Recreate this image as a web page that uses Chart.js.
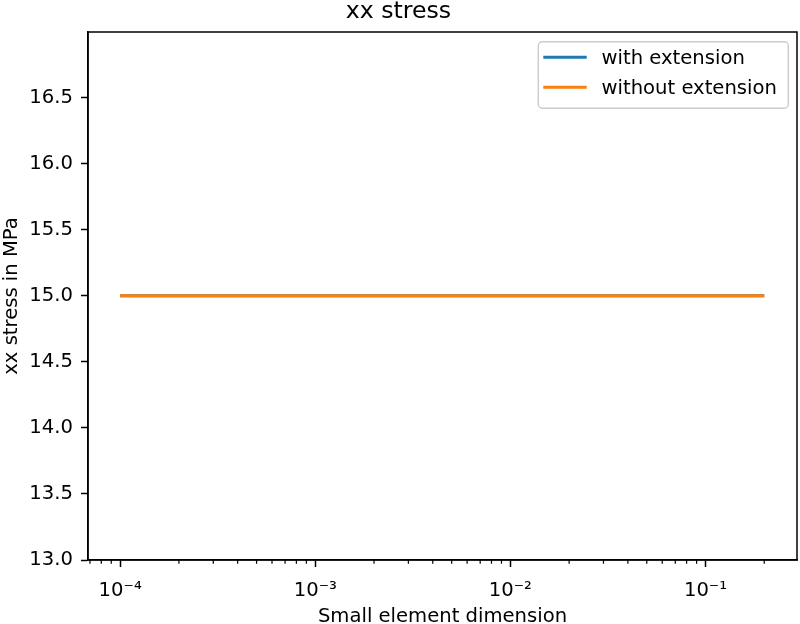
<!DOCTYPE html>
<html>
<head>
<meta charset="utf-8">
<script src="https://cdn.jsdelivr.net/npm/chart.js@4/dist/chart.umd.min.js"></script>
<style>
  html, body { margin: 0; padding: 0; background: #ffffff; }
  #wrap { width: 800px; height: 624px; }
</style>
</head>
<body>
<div id="wrap"><canvas id="c" width="800" height="624"></canvas></div>
<script>
// ---- data ----
const elementSizes = [0.0001, 0.0002, 0.0005, 0.001, 0.002, 0.005, 0.01, 0.02, 0.05, 0.1, 0.2];
const stressWithExtension = [15.0, 15.0, 15.0, 15.0, 15.0, 15.0, 15.0, 15.0, 15.0, 15.0, 15.0];
const stressWithoutExtension = [15.0, 15.0, 15.0, 15.0, 15.0, 15.0, 15.0, 15.0, 15.0, 15.0, 15.0];
const seriesNames = ['with extension', 'without extension'];
const xMajorTicks = [0.0001, 0.001, 0.01, 0.1];
const xMajorLabels = ['10\u207B\u2074', '10\u207B\u00B3', '10\u207B\u00B2', '10\u207B\u00B9'];
const xMinorTicks = [0.00007, 0.00008, 0.00009,
  0.0002, 0.0003, 0.0004, 0.0005, 0.0006, 0.0007, 0.0008, 0.0009,
  0.002, 0.003, 0.004, 0.005, 0.006, 0.007, 0.008, 0.009,
  0.02, 0.03, 0.04, 0.05, 0.06, 0.07, 0.08, 0.09,
  0.2];
const yTicks = [13.0, 13.5, 14.0, 14.5, 15.0, 15.5, 16.0, 16.5];
const xRange = [6.84e-5, 0.2944];
const yRange = [13.0, 16.996];
const titleText = 'xx stress';
const xTitle = 'Small element dimension';
const yTitle = 'xx stress in MPa';

const colors = ['#1f77b4', '#ff7f0e'];
const FONT = 'DejaVu Sans';
const FS = 19.6;
Chart.defaults.font.family = FONT;
Chart.defaults.font.size = FS;
Chart.defaults.color = '#000000';

const toPoints = (ys) => elementSizes.map((x, i) => ({ x: x, y: ys[i] }));

const framePlugin = {
  id: 'frame',
  afterDraw(chart) {
    const ctx = chart.ctx;
    const a = chart.chartArea;
    const xs = chart.scales.x;
    ctx.save();
    // minor ticks
    ctx.strokeStyle = '#000';
    ctx.lineWidth = 1.2;
    ctx.beginPath();
    xMinorTicks.forEach(v => {
      const px = xs.getPixelForValue(v);
      if (px >= a.left && px <= a.right) {
        ctx.moveTo(px, a.bottom);
        ctx.lineTo(px, a.bottom + 3.8);
      }
    });
    ctx.stroke();
    // frame
    ctx.lineWidth = 1.5;
    ctx.strokeRect(a.left, a.top, a.right - a.left, a.bottom - a.top);
    // legend
    const bx = 538.3, by = 41.7, bw = 250, bh = 66.6;
    ctx.beginPath();
    ctx.roundRect(bx, by, bw, bh, 4);
    ctx.fillStyle = 'rgba(255,255,255,0.8)';
    ctx.fill();
    ctx.strokeStyle = '#cccccc';
    ctx.lineWidth = 1.4;
    ctx.stroke();
    const rows = [57.3, 87.3];
    ctx.font = FS + 'px "' + FONT + '"';
    ctx.textAlign = 'left';
    ctx.textBaseline = 'alphabetic';
    seriesNames.forEach((name, i) => {
      ctx.strokeStyle = colors[i];
      ctx.lineWidth = 2.9;
      ctx.beginPath();
      ctx.moveTo(543.3, rows[i]);
      ctx.lineTo(586.7, rows[i]);
      ctx.stroke();
      ctx.fillStyle = '#000';
      ctx.fillText(name, 601.5, rows[i] + 6.6);
    });
    ctx.restore();
  }
};

new Chart(document.getElementById('c'), {
  type: 'line',
  data: {
    datasets: [
      { label: seriesNames[0], data: toPoints(stressWithExtension), borderColor: colors[0], backgroundColor: colors[0],
        borderWidth: 2.9, pointRadius: 0, fill: false, tension: 0, order: 1 },
      { label: seriesNames[1], data: toPoints(stressWithoutExtension), borderColor: colors[1], backgroundColor: colors[1],
        borderWidth: 2.9, pointRadius: 0, fill: false, tension: 0, order: 0 }
    ]
  },
  options: {
    responsive: false,
    animation: false,
    devicePixelRatio: 1,
    layout: { padding: { left: 0, right: 3, top: 0, bottom: 0 } },
    plugins: {
      legend: { display: false },
      tooltip: { enabled: false },
      title: {
        display: true, text: titleText, color: '#000',
        font: { family: FONT, size: 23.6, weight: 'normal', lineHeight: 1 },
        padding: { top: 0, bottom: 8.4 }
      }
    },
    scales: {
      x: {
        type: 'logarithmic',
        min: xRange[0], max: xRange[1],
        afterBuildTicks(scale) { scale.ticks = xMajorTicks.map(v => ({ value: v })); },
        afterFit(scale) { scale.height = 64; },
        ticks: {
          autoSkip: false, maxRotation: 0, minRotation: 0, padding: 12, color: '#000',
          font: { family: FONT, size: FS },
          callback: (v) => { const i = xMajorTicks.indexOf(v); return i >= 0 ? xMajorLabels[i] : ''; }
        },
        grid: { display: true, drawOnChartArea: false, drawTicks: true, tickLength: 7, tickColor: '#000', tickWidth: 1.5 },
        border: { display: true, color: '#000', width: 1.5 },
        title: { display: true, text: xTitle, color: '#000', font: { family: FONT, size: FS, lineHeight: 0.75 }, padding: { top: 0, bottom: 0 } }
      },
      y: {
        type: 'linear',
        min: yRange[0], max: yRange[1],
        afterBuildTicks(scale) { scale.ticks = yTicks.map(v => ({ value: v })); },
        afterFit(scale) { scale.width = 88; },
        ticks: {
          padding: 8, color: '#000', font: { family: FONT, size: FS },
          callback: (v) => Number(v).toFixed(1)
        },
        grid: { display: true, drawOnChartArea: false, drawTicks: true, tickLength: 7, tickColor: '#000', tickWidth: 1.5 },
        border: { display: true, color: '#000', width: 1.5 },
        title: { display: true, text: yTitle, color: '#000', font: { family: FONT, size: FS, lineHeight: 1 }, padding: { top: 2, bottom: 0 } }
      }
    }
  },
  plugins: [framePlugin]
});
</script>
</body>
</html>
